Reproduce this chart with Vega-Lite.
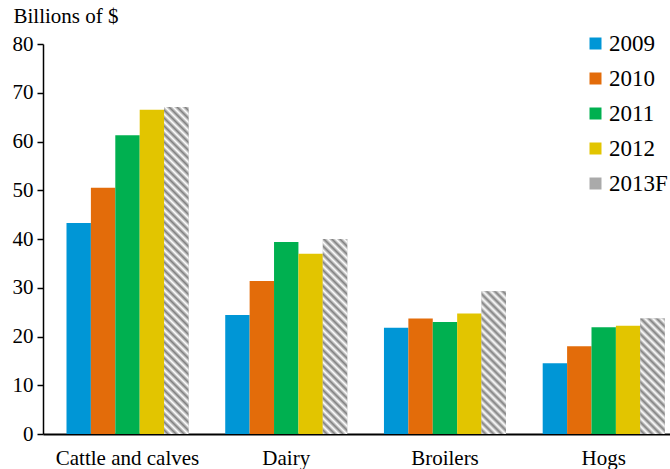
{
  "$schema": "https://vega.github.io/schema/vega-lite/v6.json",
  "width": 627,
  "height": 390,
  "autosize": {"type": "none"},
  "padding": {"left": 43, "top": 44, "right": 0, "bottom": 35},
  "background": "white",
  "config": {"view": {"stroke": null}, "font": "Liberation Serif, Times New Roman, serif"},
  "data": {
    "values": [
      {"cat": "Cattle and calves", "year": "2009", "value": 43.3},
      {"cat": "Cattle and calves", "year": "2010", "value": 50.5},
      {"cat": "Cattle and calves", "year": "2011", "value": 61.3},
      {"cat": "Cattle and calves", "year": "2012", "value": 66.5},
      {"cat": "Cattle and calves", "year": "2013F", "value": 67.1},
      {"cat": "Dairy", "year": "2009", "value": 24.4},
      {"cat": "Dairy", "year": "2010", "value": 31.4},
      {"cat": "Dairy", "year": "2011", "value": 39.4},
      {"cat": "Dairy", "year": "2012", "value": 37.0},
      {"cat": "Dairy", "year": "2013F", "value": 40.0},
      {"cat": "Broilers", "year": "2009", "value": 21.8},
      {"cat": "Broilers", "year": "2010", "value": 23.7},
      {"cat": "Broilers", "year": "2011", "value": 23.0},
      {"cat": "Broilers", "year": "2012", "value": 24.7},
      {"cat": "Broilers", "year": "2013F", "value": 29.3},
      {"cat": "Hogs", "year": "2009", "value": 14.5},
      {"cat": "Hogs", "year": "2010", "value": 18.0},
      {"cat": "Hogs", "year": "2011", "value": 21.9},
      {"cat": "Hogs", "year": "2012", "value": 22.2},
      {"cat": "Hogs", "year": "2013F", "value": 23.7}
    ]
  },
  "encoding": {
    "x": {
      "field": "cat", "type": "nominal",
      "scale": {"domain": ["Cattle and calves", "Dairy", "Broilers", "Hogs"], "paddingInner": 0.2314, "paddingOuter": 0.0907, "align": 0.816},
      "axis": {"title": null, "labelAngle": 0, "ticks": false, "tickSize": 0, "domainColor": "#000", "domainWidth": 2, "labelFont": "Liberation Serif, Times New Roman, serif", "labelFontSize": 21, "labelColor": "#000", "labelBaseline": "alphabetic", "labelPadding": 30}
    },
    "xOffset": {"field": "year", "type": "nominal", "scale": {"domain": ["2009", "2010", "2011", "2012", "2013F"], "paddingInner": 0, "paddingOuter": 0}},
    "y": {
      "field": "value", "type": "quantitative",
      "scale": {"domain": [0, 80], "nice": false},
      "axis": {"title": "Billions of $", "titleAngle": 0, "titleAlign": "left", "titleBaseline": "alphabetic", "titleX": -30, "titleY": -22, "titleFont": "Liberation Serif, Times New Roman, serif", "titleFontSize": 21, "titleFontWeight": "normal", "titleColor": "#000", "values": [0, 10, 20, 30, 40, 50, 60, 70, 80], "grid": false, "domainColor": "#000", "domainWidth": 1.5, "tickColor": "#000", "tickWidth": 1.5, "tickSize": 6, "labelPadding": 4, "labelFont": "Liberation Serif, Times New Roman, serif", "labelFontSize": 21, "labelColor": "#000"}
    }
  },
  "layer": [
    {
      "mark": {"type": "bar"},
      "encoding": {
        "color": {
          "field": "year", "type": "nominal",
          "scale": {"domain": ["2009", "2010", "2011", "2012", "2013F"], "range": ["#0096D6", "#E36C0A", "#00B050", "#E2C500", "#AAAAAA"]},
          "legend": {
            "title": null, "orient": "none", "legendX": 541, "legendY": -12, "padding": 0,
            "symbolType": "square", "symbolSize": 144, "symbolStrokeWidth": 0, "symbolOpacity": 1,
            "labelFont": "Liberation Serif, Times New Roman, serif", "labelFontSize": 23, "labelColor": "#000", "rowPadding": 11, "labelOffset": 2,
            "encode": {"symbols": {"update": {"fill": [
              {"test": "datum.value === '2013F'", "value": {"gradient": "linear", "x1": 0, "y1": 1, "x2": 20, "y2": -19, "stops": [{"offset":0,"color":"#fff"},{"offset":0.0083,"color":"#7f7f7f"},{"offset":0.0167,"color":"#fff"},{"offset":0.025,"color":"#7f7f7f"},{"offset":0.0333,"color":"#fff"},{"offset":0.0417,"color":"#7f7f7f"},{"offset":0.05,"color":"#fff"},{"offset":0.0583,"color":"#7f7f7f"},{"offset":0.0667,"color":"#fff"},{"offset":0.075,"color":"#7f7f7f"},{"offset":0.0833,"color":"#fff"}]}},
              {"scale": "color", "field": "value"}
            ]}}}
          }
        }
      }
    },
    {
      "transform": [{"filter": "datum.year === '2013F' && datum.cat === 'Cattle and calves'"}],
      "mark": {"type": "bar", "fill": {"gradient": "linear", "x1": 0, "y1": 1, "x2": 0.1089, "y2": -0.4593, "stops": [{"offset":0,"color":"#fff"},{"offset":0.0083,"color":"#7f7f7f"},{"offset":0.0167,"color":"#fff"},{"offset":0.025,"color":"#7f7f7f"},{"offset":0.0333,"color":"#fff"},{"offset":0.0417,"color":"#7f7f7f"},{"offset":0.05,"color":"#fff"},{"offset":0.0583,"color":"#7f7f7f"},{"offset":0.0667,"color":"#fff"},{"offset":0.075,"color":"#7f7f7f"},{"offset":0.0833,"color":"#fff"},{"offset":0.0917,"color":"#7f7f7f"},{"offset":0.1,"color":"#fff"},{"offset":0.1083,"color":"#7f7f7f"},{"offset":0.1167,"color":"#fff"},{"offset":0.125,"color":"#7f7f7f"},{"offset":0.1333,"color":"#fff"},{"offset":0.1417,"color":"#7f7f7f"},{"offset":0.15,"color":"#fff"},{"offset":0.1583,"color":"#7f7f7f"},{"offset":0.1667,"color":"#fff"},{"offset":0.175,"color":"#7f7f7f"},{"offset":0.1833,"color":"#fff"},{"offset":0.1917,"color":"#7f7f7f"},{"offset":0.2,"color":"#fff"},{"offset":0.2083,"color":"#7f7f7f"},{"offset":0.2167,"color":"#fff"},{"offset":0.225,"color":"#7f7f7f"},{"offset":0.2333,"color":"#fff"},{"offset":0.2417,"color":"#7f7f7f"},{"offset":0.25,"color":"#fff"},{"offset":0.2583,"color":"#7f7f7f"},{"offset":0.2667,"color":"#fff"},{"offset":0.275,"color":"#7f7f7f"},{"offset":0.2833,"color":"#fff"},{"offset":0.2917,"color":"#7f7f7f"},{"offset":0.3,"color":"#fff"},{"offset":0.3083,"color":"#7f7f7f"},{"offset":0.3167,"color":"#fff"},{"offset":0.325,"color":"#7f7f7f"},{"offset":0.3333,"color":"#fff"},{"offset":0.3417,"color":"#7f7f7f"},{"offset":0.35,"color":"#fff"},{"offset":0.3583,"color":"#7f7f7f"},{"offset":0.3667,"color":"#fff"},{"offset":0.375,"color":"#7f7f7f"},{"offset":0.3833,"color":"#fff"},{"offset":0.3917,"color":"#7f7f7f"},{"offset":0.4,"color":"#fff"},{"offset":0.4083,"color":"#7f7f7f"},{"offset":0.4167,"color":"#fff"},{"offset":0.425,"color":"#7f7f7f"},{"offset":0.4333,"color":"#fff"},{"offset":0.4417,"color":"#7f7f7f"},{"offset":0.45,"color":"#fff"},{"offset":0.4583,"color":"#7f7f7f"},{"offset":0.4667,"color":"#fff"},{"offset":0.475,"color":"#7f7f7f"},{"offset":0.4833,"color":"#fff"},{"offset":0.4917,"color":"#7f7f7f"},{"offset":0.5,"color":"#fff"},{"offset":0.5083,"color":"#7f7f7f"},{"offset":0.5167,"color":"#fff"},{"offset":0.525,"color":"#7f7f7f"},{"offset":0.5333,"color":"#fff"},{"offset":0.5417,"color":"#7f7f7f"},{"offset":0.55,"color":"#fff"},{"offset":0.5583,"color":"#7f7f7f"},{"offset":0.5667,"color":"#fff"},{"offset":0.575,"color":"#7f7f7f"},{"offset":0.5833,"color":"#fff"},{"offset":0.5917,"color":"#7f7f7f"},{"offset":0.6,"color":"#fff"},{"offset":0.6083,"color":"#7f7f7f"},{"offset":0.6167,"color":"#fff"},{"offset":0.625,"color":"#7f7f7f"},{"offset":0.6333,"color":"#fff"},{"offset":0.6417,"color":"#7f7f7f"},{"offset":0.65,"color":"#fff"},{"offset":0.6583,"color":"#7f7f7f"},{"offset":0.6667,"color":"#fff"},{"offset":0.675,"color":"#7f7f7f"},{"offset":0.6833,"color":"#fff"},{"offset":0.6917,"color":"#7f7f7f"},{"offset":0.7,"color":"#fff"},{"offset":0.7083,"color":"#7f7f7f"},{"offset":0.7167,"color":"#fff"},{"offset":0.725,"color":"#7f7f7f"},{"offset":0.7333,"color":"#fff"},{"offset":0.7417,"color":"#7f7f7f"},{"offset":0.75,"color":"#fff"},{"offset":0.7583,"color":"#7f7f7f"},{"offset":0.7667,"color":"#fff"},{"offset":0.775,"color":"#7f7f7f"},{"offset":0.7833,"color":"#fff"}]}}
    },
    {
      "transform": [{"filter": "datum.year === '2013F' && datum.cat === 'Dairy'"}],
      "mark": {"type": "bar", "fill": {"gradient": "linear", "x1": 0, "y1": 1, "x2": 0.3033, "y2": -1.4236, "stops": [{"offset":0,"color":"#fff"},{"offset":0.0083,"color":"#7f7f7f"},{"offset":0.0167,"color":"#fff"},{"offset":0.025,"color":"#7f7f7f"},{"offset":0.0333,"color":"#fff"},{"offset":0.0417,"color":"#7f7f7f"},{"offset":0.05,"color":"#fff"},{"offset":0.0583,"color":"#7f7f7f"},{"offset":0.0667,"color":"#fff"},{"offset":0.075,"color":"#7f7f7f"},{"offset":0.0833,"color":"#fff"},{"offset":0.0917,"color":"#7f7f7f"},{"offset":0.1,"color":"#fff"},{"offset":0.1083,"color":"#7f7f7f"},{"offset":0.1167,"color":"#fff"},{"offset":0.125,"color":"#7f7f7f"},{"offset":0.1333,"color":"#fff"},{"offset":0.1417,"color":"#7f7f7f"},{"offset":0.15,"color":"#fff"},{"offset":0.1583,"color":"#7f7f7f"},{"offset":0.1667,"color":"#fff"},{"offset":0.175,"color":"#7f7f7f"},{"offset":0.1833,"color":"#fff"},{"offset":0.1917,"color":"#7f7f7f"},{"offset":0.2,"color":"#fff"},{"offset":0.2083,"color":"#7f7f7f"},{"offset":0.2167,"color":"#fff"},{"offset":0.225,"color":"#7f7f7f"},{"offset":0.2333,"color":"#fff"},{"offset":0.2417,"color":"#7f7f7f"},{"offset":0.25,"color":"#fff"},{"offset":0.2583,"color":"#7f7f7f"},{"offset":0.2667,"color":"#fff"},{"offset":0.275,"color":"#7f7f7f"},{"offset":0.2833,"color":"#fff"},{"offset":0.2917,"color":"#7f7f7f"},{"offset":0.3,"color":"#fff"},{"offset":0.3083,"color":"#7f7f7f"},{"offset":0.3167,"color":"#fff"},{"offset":0.325,"color":"#7f7f7f"},{"offset":0.3333,"color":"#fff"},{"offset":0.3417,"color":"#7f7f7f"},{"offset":0.35,"color":"#fff"},{"offset":0.3583,"color":"#7f7f7f"},{"offset":0.3667,"color":"#fff"},{"offset":0.375,"color":"#7f7f7f"},{"offset":0.3833,"color":"#fff"},{"offset":0.3917,"color":"#7f7f7f"},{"offset":0.4,"color":"#fff"},{"offset":0.4083,"color":"#7f7f7f"},{"offset":0.4167,"color":"#fff"},{"offset":0.425,"color":"#7f7f7f"},{"offset":0.4333,"color":"#fff"},{"offset":0.4417,"color":"#7f7f7f"},{"offset":0.45,"color":"#fff"},{"offset":0.4583,"color":"#7f7f7f"},{"offset":0.4667,"color":"#fff"},{"offset":0.475,"color":"#7f7f7f"},{"offset":0.4833,"color":"#fff"}]}}
    },
    {
      "transform": [{"filter": "datum.year === '2013F' && datum.cat === 'Broilers'"}],
      "mark": {"type": "bar", "fill": {"gradient": "linear", "x1": 0, "y1": 1, "x2": 0.5578, "y2": -2.2652, "stops": [{"offset":0,"color":"#fff"},{"offset":0.0083,"color":"#7f7f7f"},{"offset":0.0167,"color":"#fff"},{"offset":0.025,"color":"#7f7f7f"},{"offset":0.0333,"color":"#fff"},{"offset":0.0417,"color":"#7f7f7f"},{"offset":0.05,"color":"#fff"},{"offset":0.0583,"color":"#7f7f7f"},{"offset":0.0667,"color":"#fff"},{"offset":0.075,"color":"#7f7f7f"},{"offset":0.0833,"color":"#fff"},{"offset":0.0917,"color":"#7f7f7f"},{"offset":0.1,"color":"#fff"},{"offset":0.1083,"color":"#7f7f7f"},{"offset":0.1167,"color":"#fff"},{"offset":0.125,"color":"#7f7f7f"},{"offset":0.1333,"color":"#fff"},{"offset":0.1417,"color":"#7f7f7f"},{"offset":0.15,"color":"#fff"},{"offset":0.1583,"color":"#7f7f7f"},{"offset":0.1667,"color":"#fff"},{"offset":0.175,"color":"#7f7f7f"},{"offset":0.1833,"color":"#fff"},{"offset":0.1917,"color":"#7f7f7f"},{"offset":0.2,"color":"#fff"},{"offset":0.2083,"color":"#7f7f7f"},{"offset":0.2167,"color":"#fff"},{"offset":0.225,"color":"#7f7f7f"},{"offset":0.2333,"color":"#fff"},{"offset":0.2417,"color":"#7f7f7f"},{"offset":0.25,"color":"#fff"},{"offset":0.2583,"color":"#7f7f7f"},{"offset":0.2667,"color":"#fff"},{"offset":0.275,"color":"#7f7f7f"},{"offset":0.2833,"color":"#fff"},{"offset":0.2917,"color":"#7f7f7f"},{"offset":0.3,"color":"#fff"},{"offset":0.3083,"color":"#7f7f7f"},{"offset":0.3167,"color":"#fff"},{"offset":0.325,"color":"#7f7f7f"},{"offset":0.3333,"color":"#fff"},{"offset":0.3417,"color":"#7f7f7f"},{"offset":0.35,"color":"#fff"},{"offset":0.3583,"color":"#7f7f7f"},{"offset":0.3667,"color":"#fff"}]}}
    },
    {
      "transform": [{"filter": "datum.year === '2013F' && datum.cat === 'Hogs'"}],
      "mark": {"type": "bar", "fill": {"gradient": "linear", "x1": 0, "y1": 1, "x2": 0.8399, "y2": -2.9771, "stops": [{"offset":0,"color":"#fff"},{"offset":0.0083,"color":"#7f7f7f"},{"offset":0.0167,"color":"#fff"},{"offset":0.025,"color":"#7f7f7f"},{"offset":0.0333,"color":"#fff"},{"offset":0.0417,"color":"#7f7f7f"},{"offset":0.05,"color":"#fff"},{"offset":0.0583,"color":"#7f7f7f"},{"offset":0.0667,"color":"#fff"},{"offset":0.075,"color":"#7f7f7f"},{"offset":0.0833,"color":"#fff"},{"offset":0.0917,"color":"#7f7f7f"},{"offset":0.1,"color":"#fff"},{"offset":0.1083,"color":"#7f7f7f"},{"offset":0.1167,"color":"#fff"},{"offset":0.125,"color":"#7f7f7f"},{"offset":0.1333,"color":"#fff"},{"offset":0.1417,"color":"#7f7f7f"},{"offset":0.15,"color":"#fff"},{"offset":0.1583,"color":"#7f7f7f"},{"offset":0.1667,"color":"#fff"},{"offset":0.175,"color":"#7f7f7f"},{"offset":0.1833,"color":"#fff"},{"offset":0.1917,"color":"#7f7f7f"},{"offset":0.2,"color":"#fff"},{"offset":0.2083,"color":"#7f7f7f"},{"offset":0.2167,"color":"#fff"},{"offset":0.225,"color":"#7f7f7f"},{"offset":0.2333,"color":"#fff"},{"offset":0.2417,"color":"#7f7f7f"},{"offset":0.25,"color":"#fff"},{"offset":0.2583,"color":"#7f7f7f"},{"offset":0.2667,"color":"#fff"},{"offset":0.275,"color":"#7f7f7f"},{"offset":0.2833,"color":"#fff"},{"offset":0.2917,"color":"#7f7f7f"},{"offset":0.3,"color":"#fff"}]}}
    }
  ]
}
